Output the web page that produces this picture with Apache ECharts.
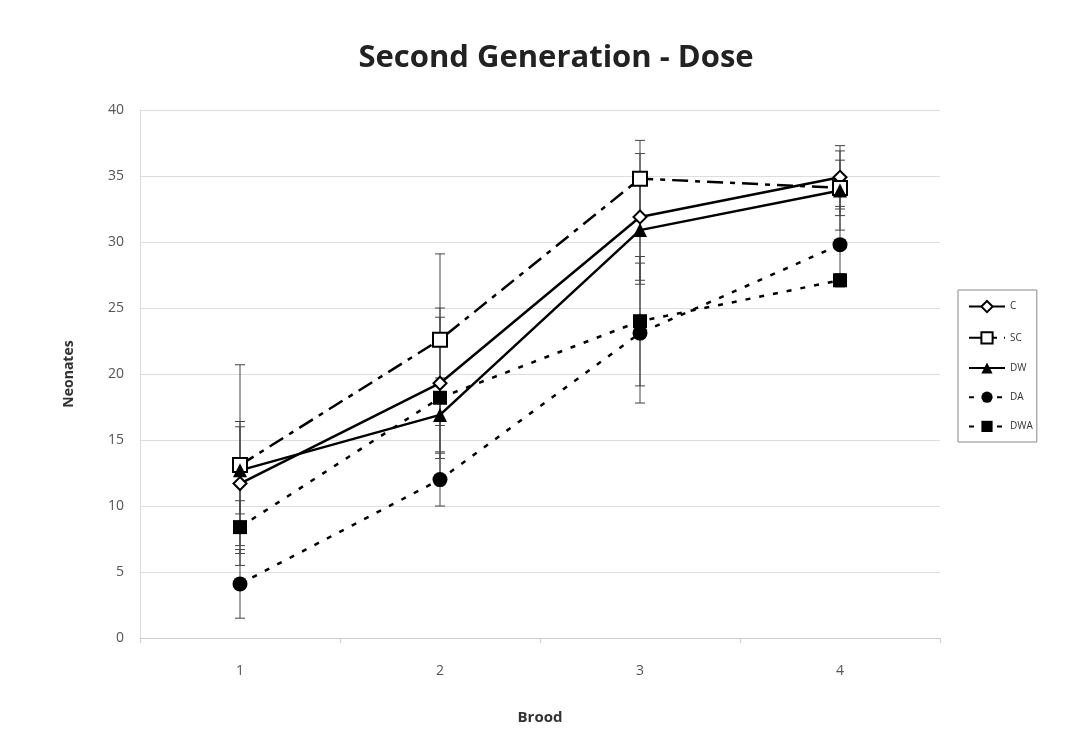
<!DOCTYPE html>
<html>
<head>
<meta charset="utf-8">
<script src="https://cdn.jsdelivr.net/npm/echarts@6/dist/echarts.min.js"></script>
<style>html,body{margin:0;padding:0;background:#fff}#c{width:1088px;height:739px}</style>
</head>
<body>
<div id="c"></div>
<script>
const categories = ['1', '2', '3', '4'];
const C   = [11.7, 19.3, 31.9, 34.9];
const SC  = [13.1, 22.6, 34.8, 34.1];
const DW  = [12.7, 16.9, 30.9, 33.9];
const DA  = [4.1, 12.0, 23.1, 29.8];
const DWA = [8.4, 18.2, 24.0, 27.1];
const C_err   = [4.7, 5.7, 4.8, 2.4];
const SC_err  = [7.6, 6.5, 2.9, 2.1];
const DW_err  = [3.3, 2.8, 4.1, 3.0];
const DA_err  = [2.6, 2.0, 5.3, 2.9];
const DWA_err = [2.0, 6.1, 4.9, 0.5];
const yTicks = [0, 5, 10, 15, 20, 25, 30, 35, 40];

const FONT = '"Open Sans", "Noto Sans", sans-serif';

function errData(vals, errs) {
  return vals.map((v, i) => [i, v - errs[i], v + errs[i]]);
}
function errSeries(name, vals, errs) {
  return {
    type: 'custom', name: name + '_err', z: 1, silent: true,
    data: errData(vals, errs),
    renderItem: function (params, api) {
      const x = api.value(0);
      const lo = api.coord([x, api.value(1)]);
      const hi = api.coord([x, api.value(2)]);
      const w = 5;
      const st = { stroke: '#444', lineWidth: 1 };
      return {
        type: 'group',
        children: [
          { type: 'line', shape: { x1: lo[0], y1: lo[1], x2: hi[0], y2: hi[1] }, style: st },
          { type: 'line', shape: { x1: lo[0] - w, y1: lo[1], x2: lo[0] + w, y2: lo[1] }, style: st },
          { type: 'line', shape: { x1: hi[0] - w, y1: hi[1], x2: hi[0] + w, y2: hi[1] }, style: st }
        ]
      };
    }
  };
}
function lineSeries(name, vals, symbol, size, hollow, dash) {
  return {
    type: 'line', name: name, data: vals, z: 3,
    symbol: symbol, symbolSize: size, showAllSymbol: true,
    lineStyle: { color: '#000', width: 2.5, type: dash },
    itemStyle: hollow ? { color: '#fff', borderColor: '#000', borderWidth: 2 } : { color: '#000', borderColor: '#000', borderWidth: 0 },
    emphasis: { disabled: true },
    animation: false
  };
}

const chart = echarts.init(document.getElementById('c'));
chart.setOption({
  backgroundColor: '#fff',
  animation: false,
  title: {
    text: 'Second Generation - Dose',
    left: 551, top: 38, textAlign: 'center',
    textStyle: { fontFamily: FONT, fontSize: 31, fontWeight: 'bold', color: '#222' }
  },
  legend: {
    orient: 'vertical',
    left: 958, top: 290,
    data: ['C', 'SC', 'DW', 'DA', 'DWA'],
    borderColor: '#888', borderWidth: 1,
    padding: [10, 4, 10, 10],
    itemWidth: 36, itemHeight: 14, itemGap: 18,
    textStyle: { fontFamily: FONT, fontSize: 10, color: '#333' }
  },
  grid: { left: 140, right: 148, top: 110, bottom: 101 },
  xAxis: {
    type: 'category', data: categories,
    name: 'Brood', nameLocation: 'middle', nameGap: 72,
    nameTextStyle: { fontFamily: FONT, fontSize: 15, fontWeight: 'bold', color: '#333' },
    axisLine: { lineStyle: { color: '#ccc' } },
    axisTick: { show: true, alignWithLabel: false, lineStyle: { color: '#ccc' } },
    axisLabel: { fontFamily: FONT, fontSize: 14, color: '#555', margin: 26 }
  },
  yAxis: {
    type: 'value', min: 0, max: 40, interval: 5,
    name: 'Neonates', nameLocation: 'middle', nameGap: 64, nameRotate: 90,
    nameTextStyle: { fontFamily: FONT, fontSize: 14, fontWeight: 'bold', color: '#333' },
    axisLine: { show: true, lineStyle: { color: '#ddd' } },
    axisTick: { show: false },
    splitLine: { lineStyle: { color: '#ddd', width: 1 } },
    axisLabel: { fontFamily: FONT, fontSize: 14, color: '#555', margin: 16,
      formatter: v => yTicks.includes(v) ? String(v) : '' }
  },
  series: [
    errSeries('C', C, C_err),
    errSeries('SC', SC, SC_err),
    errSeries('DW', DW, DW_err),
    errSeries('DA', DA, DA_err),
    errSeries('DWA', DWA, DWA_err),
    lineSeries('C', C, 'diamond', 13, true, 'solid'),
    lineSeries('SC', SC, 'rect', 14, true, [16, 7, 5, 7]),
    lineSeries('DW', DW, 'triangle', 14, false, 'solid'),
    lineSeries('DA', DA, 'circle', 15, false, [5, 9]),
    lineSeries('DWA', DWA, 'rect', 14, false, [5, 9])
  ]
});
</script>
</body>
</html>
